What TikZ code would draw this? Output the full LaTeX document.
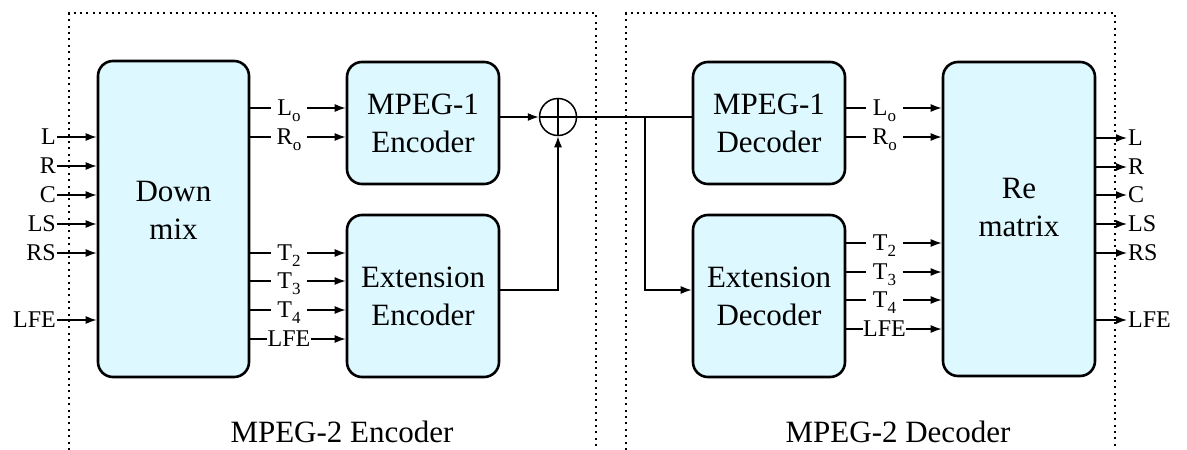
\documentclass[tikz,border=0pt]{standalone}
\usepackage{fontspec}
\setmainfont{Liberation Serif}
\usetikzlibrary{arrows.meta}
\definecolor{boxfill}{RGB}{221,249,255}
\newcommand\subs[1]{\raisebox{-5.5pt}{\fontsize{17}{17}\selectfont #1}}
\begin{document}
\begin{tikzpicture}[x=1pt,y=-1pt,
  blk/.style={draw, line width=2.6pt, fill=boxfill, rounded corners=15pt, inner sep=0pt},
  big/.style={font=\fontsize{31}{38}\selectfont, align=center},
  port/.style={font=\fontsize{24}{28}\selectfont, text height=15.9pt, text depth=0pt, inner ysep=0pt, inner xsep=1pt},
  midlbl/.style={port, minimum width=36pt, inner xsep=0pt},
  conn/.style={line width=1.5pt},
  arr/.style={conn, -{Latex[length=11pt,width=8pt]}},
  frame/.style={line width=2pt, dash pattern=on 2pt off 4.4pt}]
\useasboundingbox (0,0) rectangle (1187,450);
% frames
\draw[frame] (69,450) -- (69,13) -- (596,13) -- (596,450);
\draw[frame] (626,450) -- (626,13) -- (1115,13) -- (1115,450);
% blocks
\node[blk, minimum width=151pt, minimum height=316pt] (dm) at (173.5,219) {};
\node[big] at ([yshift=9pt]dm.center) {Down\\mix};
\node[blk, minimum width=152pt, minimum height=122pt, big] (m1e) at (423,123) {MPEG-1\\Encoder};
\node[blk, minimum width=152pt, minimum height=162pt, big] (exe) at (423,296) {Extension\\Encoder};
\node[blk, minimum width=152pt, minimum height=122pt, big] (m1d) at (769,123) {MPEG-1\\Decoder};
\node[blk, minimum width=152pt, minimum height=162pt, big] (exd) at (769,296) {Extension\\Decoder};
\node[blk, minimum width=152pt, minimum height=314pt] (rm) at (1019,219) {};
\node[big] at ([yshift=12pt]rm.center) {Re\\matrix};
% sum
\node[draw, circle, line width=1.5pt, minimum size=37pt, inner sep=0pt] (sum) at (558,117) {};
\draw[conn] (sum.north) -- (sum.south) (sum.west) -- (sum.east);
% encoder inputs
\foreach \n/\t/\y in {iL/L/137, iR/R/166, iC/C/195, iLS/LS/224, iRS/RS/253, iLFE/LFE/320}{
  \node[port, anchor=east] (\n) at (57,\y) {\t};
  \draw[arr] (\n.east) -- (\n.east -| dm.west);
}
% downmix outputs
\foreach \n/\t/\y/\b in {eLo/L\subs{o}/108/m1e, eRo/R\subs{o}/137/m1e, eT2/T\subs{2}/253/exe, eT3/T\subs{3}/281/exe, eT4/T\subs{4}/310/exe, eLFE/LFE/339/exe}{
  \node[midlbl] (\n) at (289,\y) {\t};
  \draw[conn] (\n.west -| dm.east) -- (\n.west);
  \draw[arr] (\n.east) -- (\n.east -| \b.west);
}
% encoder to sum
\draw[arr] (m1e.east |- sum) -- (sum.west);
\draw[arr] ([yshift=6pt]exe.east) -| (sum.south);
% sum to decoders
\draw[conn] (sum.east) -- (sum.east -| m1d.west);
\coordinate (br) at (645,117);
\draw[arr] (br) |- ([yshift=6pt]exd.west);
% decoder outputs
\foreach \n/\t/\y/\b in {dLo/L\subs{o}/108/m1d, dRo/R\subs{o}/137/m1d, dT2/T\subs{2}/243/exd, dT3/T\subs{3}/272/exd, dT4/T\subs{4}/300/exd, dLFE/LFE/329/exd}{
  \node[midlbl] (\n) at (884.5,\y) {\t};
  \draw[conn] (\n.west -| \b.east) -- (\n.west);
  \draw[arr] (\n.east) -- (\n.east -| rm.west);
}
% rematrix outputs
\foreach \n/\t/\y in {oL/L/138, oR/R/167, oC/C/195, oLS/LS/224, oRS/RS/253, oLFE/LFE/320}{
  \node[port, anchor=west] (\n) at (1127,\y) {\t};
  \draw[arr] (\n.west -| rm.east) -- (\n.west);
}
% captions
\node[big, anchor=base] (encl) at (342,442) {MPEG-2 Encoder};
\node[big, anchor=base] (decl) at (898,442) {MPEG-2 Decoder};
\end{tikzpicture}
\end{document}
